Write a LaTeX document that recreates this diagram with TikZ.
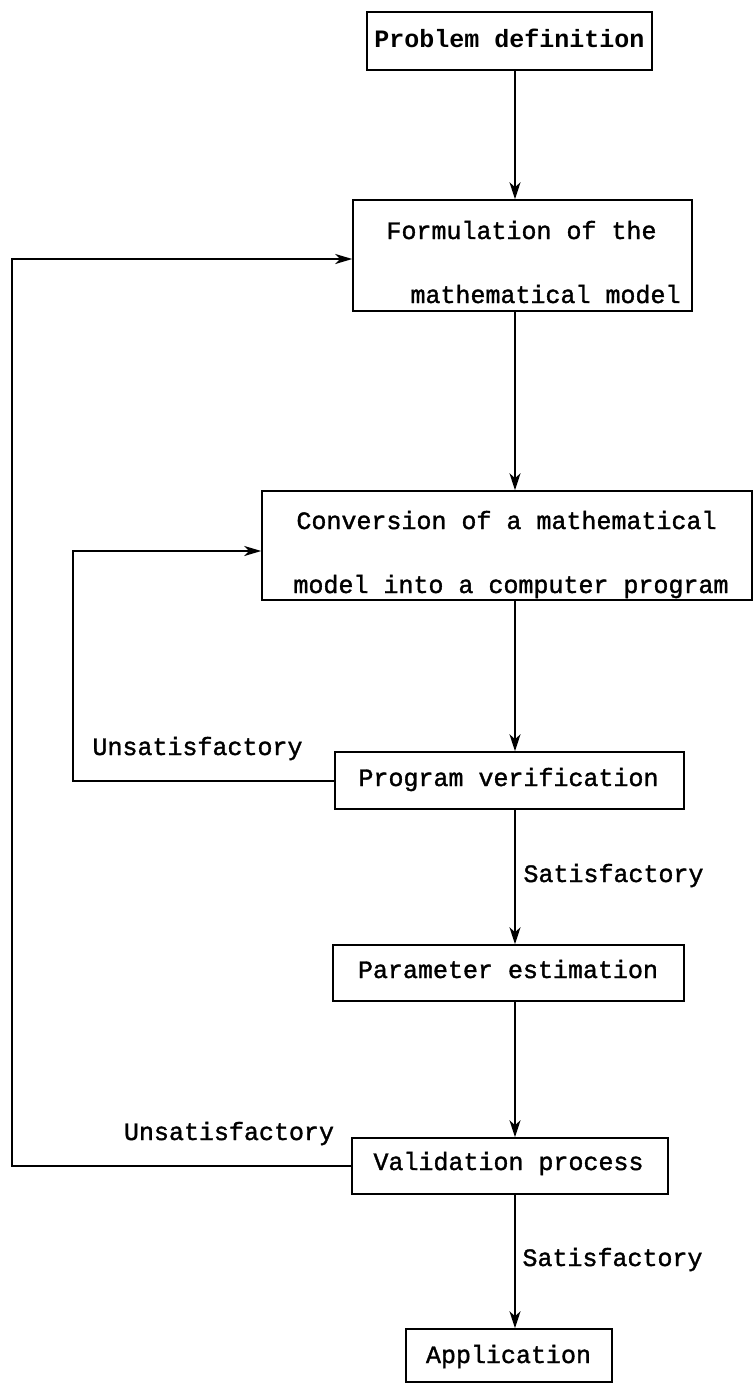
\documentclass[tikz,border=0pt]{standalone}
\usepackage{fontspec}
\usetikzlibrary{arrows.meta}
\newfontfamily\plotfont[FakeBold=1.4]{Liberation Mono}
\newfontfamily\plotbold{Liberation Mono Bold}
\begin{document}
\begin{tikzpicture}[x=1pt,y=-1pt,
  stage/.style={draw=black,line width=1.5pt,rectangle,inner sep=0pt},
  lbl/.style={font=\plotfont\fontsize{25}{30}\selectfont,anchor=base,inner sep=0pt},
  flow/.style={line width=2pt,-{Stealth[length=17pt,width=11pt,inset=5pt]}},
  back/.style={line width=2pt,-{Stealth[length=17pt,width=10pt,inset=5pt]}}]
\useasboundingbox (0,0) rectangle (753,1384);
\fill[white] (0,0) rectangle (753,1384);

% stage boxes
\node[stage,minimum width=285pt,minimum height=58pt]  (b1) at (509.5,41)  {};
\node[stage,minimum width=339pt,minimum height=111pt] (b2) at (522.5,255.5) {};
\node[stage,minimum width=490pt,minimum height=109pt] (b3) at (507,545.5) {};
\node[stage,minimum width=349pt,minimum height=57pt]  (b4) at (509.5,780.5) {};
\node[stage,minimum width=351pt,minimum height=56pt]  (b5) at (508.5,973) {};
\node[stage,minimum width=316pt,minimum height=56pt]  (b6) at (510,1166) {};
\node[stage,minimum width=206pt,minimum height=53pt]  (b7) at (509,1355.5) {};

% box texts
\node[lbl,font=\plotbold\fontsize{25}{30}\selectfont] (t1) at (509.5,47) {Problem definition};
\node[lbl] (t2a) at (521.5,239) {Formulation of the};
\node[lbl] (t2b) at (545.5,303) {mathematical model};
\node[lbl] (t3a) at (506.5,529) {Conversion of a mathematical};
\node[lbl] (t3b) at (511,593) {model into a computer program};
\node[lbl] (t4) at (508.5,786) {Program verification};
\node[lbl] (t5) at (508,978) {Parameter estimation};
\node[lbl] (t6) at (508.5,1170) {Validation process};
\node[lbl] (t7) at (508.5,1363) {Application};

% decision labels
\node[lbl] (u1) at (197.5,755) {Unsatisfactory};
\node[lbl] (s1) at (613.5,882) {Satisfactory};
\node[lbl] (u2) at (229,1140) {Unsatisfactory};
\node[lbl] (s2) at (612.5,1266) {Satisfactory};

% main downward flow
\coordinate (spine) at (515,0);
\draw[flow] (b1.south -| spine) -- (b2.north -| spine);
\draw[flow] (b2.south -| spine) -- (b3.north -| spine);
\draw[flow] (b3.south -| spine) -- (b4.north -| spine);
\draw[flow] (b4.south -| spine) -- (b5.north -| spine);
\draw[flow] (b5.south -| spine) -- (b6.north -| spine);
\draw[flow] (b6.south -| spine) -- (b7.north -| spine);

% feedback loops
\coordinate (innerTop) at (73,551);
\draw[back] (b4.west) -| (innerTop) -- (innerTop -| b3.west);
\coordinate (outerTop) at (12,259);
\draw[back] (b6.west) -| (outerTop) -- (outerTop -| b2.west);
\end{tikzpicture}
\end{document}
